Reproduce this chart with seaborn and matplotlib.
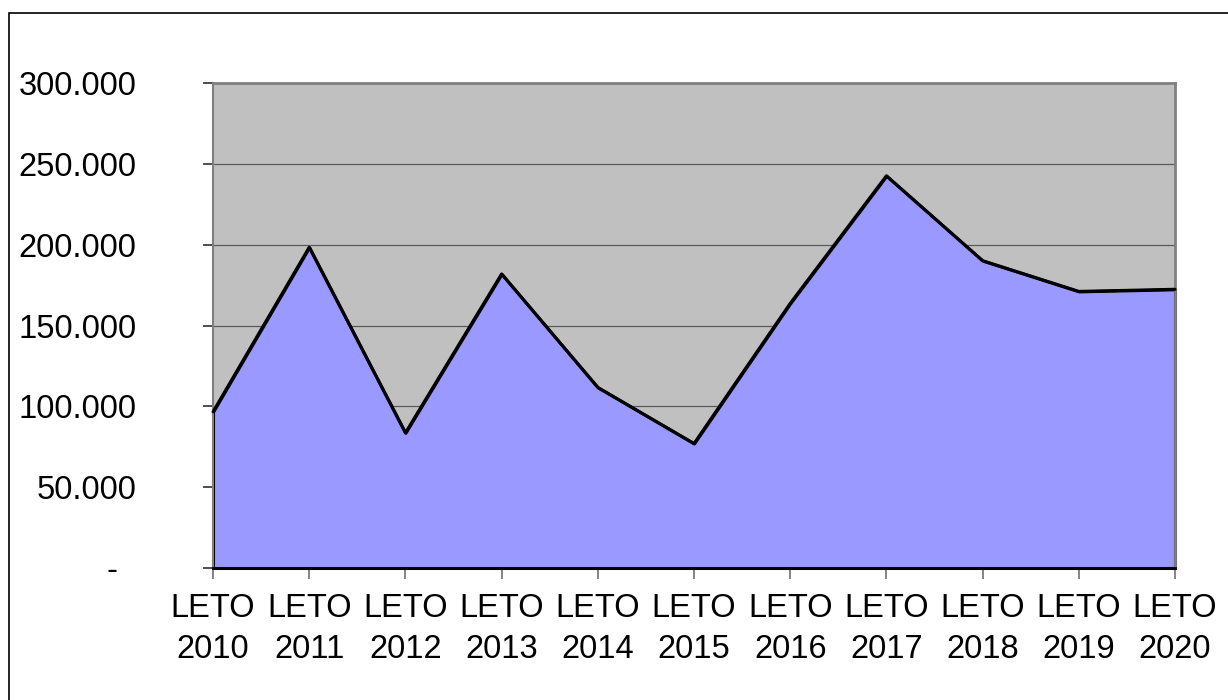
import matplotlib
matplotlib.use("Agg")
import matplotlib.pyplot as plt
import seaborn as sns
import pandas as pd
from matplotlib.patches import Rectangle

# data
years = [2010, 2011, 2012, 2013, 2014, 2015, 2016, 2017, 2018, 2019, 2020]
values = [96600, 198400, 83600, 181900, 111700, 77000, 163700, 242600, 190100, 171100, 172400]
y_ticks = [0, 50000, 100000, 150000, 200000, 250000, 300000]

labels = [f"LETO\n{y}" for y in years]
df = pd.DataFrame({"pos": range(len(years)), "value": values})

sns.set_style("white")
plt.rcParams['font.family'] = ['Liberation Sans', 'DejaVu Sans']
plt.rcParams['text.color'] = 'black'

fig = plt.figure(figsize=(12.28, 7.0), dpi=100)
ax = fig.add_axes([213 / 1228, 1 - 568 / 700, (1175 - 213) / 1228, (568 - 83) / 700])
ax.set_facecolor("#C0C0C0")

# frame around the whole chart
fig.patches.append(Rectangle((9 / 1228, -0.05), 1.1, 1 - 13 / 700 + 0.05,
                             transform=fig.transFigure, fill=False,
                             edgecolor="#000000", linewidth=1.2))

# gridlines
for t in y_ticks[1:-1]:
    ax.axhline(t, color="#5a5a5a", linewidth=0.9, zorder=1)

ax.fill_between(df["pos"], 0, df["value"], facecolor="#9999FF",
                edgecolor="black", linewidth=2.2, zorder=2, clip_on=False)
sns.lineplot(data=df, x="pos", y="value", color="black", linewidth=2.2,
             ax=ax, zorder=3, clip_on=False)

ax.set_xlim(0, len(years) - 1)
ax.set_ylim(0, 300000)
ax.set_xticks(range(len(years)))
ax.set_xticklabels(labels, fontsize=23.5, linespacing=1.4)
ax.set_yticks(y_ticks)
ax.set_yticklabels(["-  "] + [f"{v:,.0f}".replace(",", ".") for v in y_ticks[1:]],
                   fontsize=23.5)
ax.set_xlabel("")
ax.set_ylabel("")

ax.tick_params(axis="y", direction="out", length=7, width=1.2, color="#303030",
               labelcolor="black", pad=48, left=True)
ax.tick_params(axis="x", direction="out", length=8, width=1.2, color="#707070",
               labelcolor="black", pad=10, bottom=True)

for side in ["top", "right"]:
    ax.spines[side].set_color("#808080")
    ax.spines[side].set_linewidth(2)
ax.spines["left"].set_color("#808080")
ax.spines["left"].set_linewidth(1.5)
ax.spines["bottom"].set_color("black")
ax.spines["bottom"].set_linewidth(2)

fig.savefig("out.png", dpi=100)
